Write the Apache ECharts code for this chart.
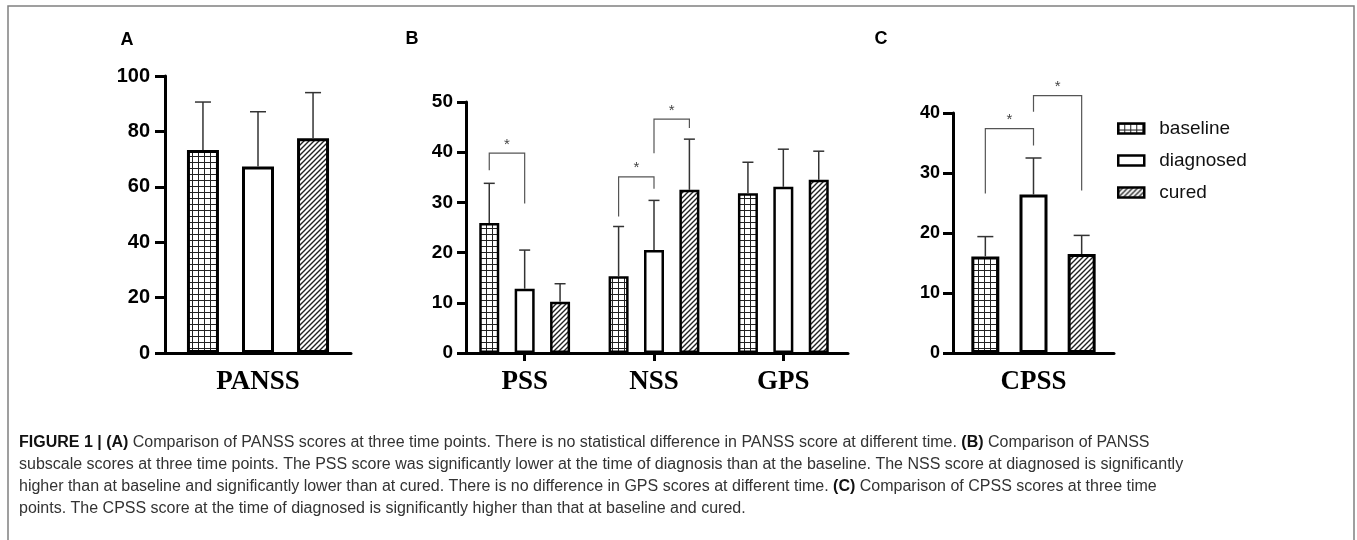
<!DOCTYPE html>
<html>
<head>
<meta charset="utf-8">
<script src="https://cdn.jsdelivr.net/npm/echarts@6/dist/echarts.min.js"></script>
<style>
  html, body { margin: 0; padding: 0; background: #fff; }
  #chart { width: 1357px; height: 540px; }
</style>
</head>
<body>
<div id="chart"></div>
<script>
// groups
var groups = ['baseline', 'diagnosed', 'cured'];

// panel A
var aCats = ['PANSS'];
var aBaseline = [73.3], aDiagnosed = [67.3], aCured = [77.5];
var aBaselineSd = [17.3], aDiagnosedSd = [19.8], aCuredSd = [16.5];
var aTicks = [0, 20, 40, 60, 80, 100];

// panel B
var bCats = ['PSS', 'NSS', 'GPS'];
var bBaseline = [25.9, 15.3, 31.8];
var bDiagnosed = [12.8, 20.5, 33.1];
var bCured = [10.2, 32.5, 34.5];
var bBaselineSd = [7.9, 9.9, 6.2];
var bDiagnosedSd = [7.7, 9.9, 7.5];
var bCuredSd = [3.6, 10.1, 5.7];
var bTicks = [0, 10, 20, 30, 40, 50];
// [category, from group, to group, bracket level, left leg end, right leg end]
var bBrackets = [[0, 0, 1, 39.8, 36.4, 29.8], [1, 0, 1, 35.1, 27.2, 32.7], [1, 1, 2, 46.6, 39.8, 44.8]];

// panel C
var cCats = ['CPSS'];
var cBaseline = [16.1], cDiagnosed = [26.4], cCured = [16.5];
var cBaselineSd = [3.3], cDiagnosedSd = [6.1], cCuredSd = [3.1];
var cTicks = [0, 10, 20, 30, 40];
var cBrackets = [[0, 0, 1, 37.4, 26.6, 34.6], [0, 1, 2, 42.9, 40.2, 27.1]];

var caption = [
  '{b|FIGURE 1 | (A)} Comparison of PANSS scores at three time points. There is no statistical difference in PANSS score at different time. {b|(B)} Comparison of PANSS',
  'subscale scores at three time points. The PSS score was significantly lower at the time of diagnosis than at the baseline. The NSS score at diagnosed is significantly',
  'higher than at baseline and significantly lower than at cured. There is no difference in GPS scores at different time. {b|(C)} Comparison of CPSS scores at three time',
  'points. The CPSS score at the time of diagnosed is significantly higher than that at baseline and cured.'
];

function gridTile(size) {
    var c = document.createElement('canvas');
    c.width = size; c.height = size;
    var ctx = c.getContext('2d');
    ctx.fillStyle = '#fff';
    ctx.fillRect(0, 0, size, size);
    ctx.fillStyle = '#222';
    ctx.fillRect(0, 0, size, 1);
    ctx.fillRect(0, 0, 1, size);
    return c;
}
function hatchTile(size) {
    var c = document.createElement('canvas');
    c.width = size; c.height = size;
    var ctx = c.getContext('2d');
    ctx.fillStyle = '#fff';
    ctx.fillRect(0, 0, size, size);
    ctx.strokeStyle = '#222';
    ctx.lineWidth = 1.4;
    ctx.beginPath();
    ctx.moveTo(-1, size + 1); ctx.lineTo(size + 1, -1);
    ctx.moveTo(-1, 1); ctx.lineTo(1, -1);
    ctx.moveTo(size - 1, size + 1); ctx.lineTo(size + 1, size - 1);
    ctx.stroke();
    return c;
}

var fills = [
    { image: gridTile(6), repeat: 'repeat' },
    '#fff',
    { image: hatchTile(5), repeat: 'repeat' }
];

var sansFont = '"Liberation Sans", Arial, sans-serif';
var serifFont = '"Liberation Serif", "Times New Roman", serif';

var series = [];
function addPanel(idx, means, sds, barW, gap, cap, bw, brackets) {
    var step = barW * (1 + gap);
    for (var g = 0; g < 3; g++) {
        series.push({
            name: groups[g],
            type: 'bar',
            xAxisIndex: idx, yAxisIndex: idx,
            barWidth: barW,
            barGap: (gap * 100) + '%',
            data: means[g],
            itemStyle: { color: fills[g], borderColor: '#000', borderWidth: bw },
            emphasis: { disabled: true },
            z: 2
        });
        (function (off, m, s) {
            series.push({
                type: 'custom',
                xAxisIndex: idx, yAxisIndex: idx,
                clip: false,
                z: 3,
                data: m.map(function (v, i) { return [i, v, s[i]]; }),
                renderItem: function (params, api) {
                    var p = api.coord([api.value(0), api.value(1)]);
                    var t = api.coord([api.value(0), api.value(1) + api.value(2)]);
                    var x = p[0] + off;
                    var st = { stroke: '#333', lineWidth: 1.5 };
                    return {
                        type: 'group',
                        children: [
                            { type: 'line', shape: { x1: x, y1: p[1], x2: x, y2: t[1] }, style: st },
                            { type: 'line', shape: { x1: x - cap / 2, y1: t[1], x2: x + cap / 2, y2: t[1] }, style: st }
                        ]
                    };
                }
            });
        })((g - 1) * step, means[g], sds[g]);
    }
    if (brackets) {
        series.push({
            type: 'custom',
            xAxisIndex: idx, yAxisIndex: idx,
            clip: false,
            z: 3,
            data: brackets,
            renderItem: function (params, api) {
                var cat = api.value(0);
                var h = api.coord([cat, api.value(3)]);
                var x1 = h[0] + (api.value(1) - 1) * step;
                var x2 = h[0] + (api.value(2) - 1) * step;
                var y1 = api.coord([cat, api.value(4)])[1];
                var y2 = api.coord([cat, api.value(5)])[1];
                return {
                    type: 'group',
                    children: [
                        { type: 'polyline', shape: { points: [[x1, y1], [x1, h[1]], [x2, h[1]], [x2, y2]] },
                          style: { stroke: '#555', lineWidth: 1.2, fill: null } },
                        { type: 'text', style: { text: '*', x: (x1 + x2) / 2, y: h[1] - 1, align: 'center', verticalAlign: 'bottom',
                          fontSize: 15, fontFamily: sansFont, fill: '#444' } }
                    ]
                };
            }
        });
    }
}

addPanel(0, [aBaseline, aDiagnosed, aCured], [aBaselineSd, aDiagnosedSd, aCuredSd], 32, 0.72, 16, 3, null);
addPanel(1, [bBaseline, bDiagnosed, bCured], [bBaselineSd, bDiagnosedSd, bCuredSd], 20, 0.77, 11, 2.5, bBrackets);
addPanel(2, [cBaseline, cDiagnosed, cCured], [cBaselineSd, cDiagnosedSd, cCuredSd], 28, 0.72, 16, 3, cBrackets);

function xAx(idx, cats, ticks) {
    return {
        type: 'category', gridIndex: idx, data: cats,
        axisLine: { lineStyle: { color: '#000', width: 3 } },
        axisTick: { show: ticks, alignWithLabel: true, length: 8, lineStyle: { color: '#000', width: 3 } },
        axisLabel: { fontFamily: serifFont, fontWeight: 'bold', fontSize: 27, color: '#000', margin: 16 },
        splitLine: { show: false }
    };
}
function yAx(idx, ticks, fs, margin, tickLen, offset) {
    return {
        type: 'value', gridIndex: idx,
        min: ticks[0], max: ticks[ticks.length - 1], interval: ticks[1] - ticks[0],
        offset: offset || 0,
        axisLine: { show: true, lineStyle: { color: '#000', width: 3 } },
        axisTick: { show: true, length: tickLen, lineStyle: { color: '#000', width: 3 } },
        axisLabel: { fontFamily: sansFont, fontWeight: 'bold', fontSize: fs, color: '#000', margin: margin },
        splitLine: { show: false }
    };
}

var myChart = echarts.init(document.getElementById('chart'));
var option = {
    backgroundColor: '#fff',
    animation: false,
    grid: [
        { left: 165, top: 76, width: 186, height: 277 },
        { left: 460, top: 102, width: 388, height: 251 },
        { left: 953, top: 113, width: 161, height: 240 }
    ],
    xAxis: [xAx(0, aCats, false), xAx(1, bCats, true), xAx(2, cCats, false)],
    yAxis: [yAx(0, aTicks, 20, 15, 10), yAx(1, bTicks, 19, 13, 9, -6), yAx(2, cTicks, 18, 13, 10)],
    legend: {
        data: groups,
        orient: 'vertical',
        left: 1117, top: 119,
        padding: 0,
        icon: 'rect',
        itemWidth: 26, itemHeight: 10, itemGap: 13,
        selectedMode: false,
        itemStyle: { borderColor: '#000', borderWidth: 2.5 },
        textStyle: { fontFamily: sansFont, fontSize: 19, color: '#111', padding: [0, 0, 0, 10] }
    },
    graphic: [
        { type: 'rect', shape: { x: 8, y: 6, width: 1346, height: 600 }, style: { fill: null, stroke: '#808080', lineWidth: 1.5 }, silent: true },
        { type: 'text', style: { text: 'A', x: 127, y: 40, align: 'center', verticalAlign: 'middle', fontFamily: sansFont, fontWeight: 'bold', fontSize: 18, fill: '#000' } },
        { type: 'text', style: { text: 'B', x: 412, y: 39, align: 'center', verticalAlign: 'middle', fontFamily: sansFont, fontWeight: 'bold', fontSize: 18, fill: '#000' } },
        { type: 'text', style: { text: 'C', x: 881, y: 39, align: 'center', verticalAlign: 'middle', fontFamily: sansFont, fontWeight: 'bold', fontSize: 18, fill: '#000' } },
        { type: 'text', style: {
            text: caption.join('\n'), x: 19, y: 432, verticalAlign: 'top',
            fontFamily: sansFont, fontSize: 16, lineHeight: 22, fill: '#333',
            rich: { b: { fontFamily: sansFont, fontWeight: 'bold', fontSize: 16, lineHeight: 22, fill: '#111' } }
        } }
    ],
    series: series
};

if (option && typeof option === "object") {
    myChart.setOption(option, true);
}
</script>
</body>
</html>
